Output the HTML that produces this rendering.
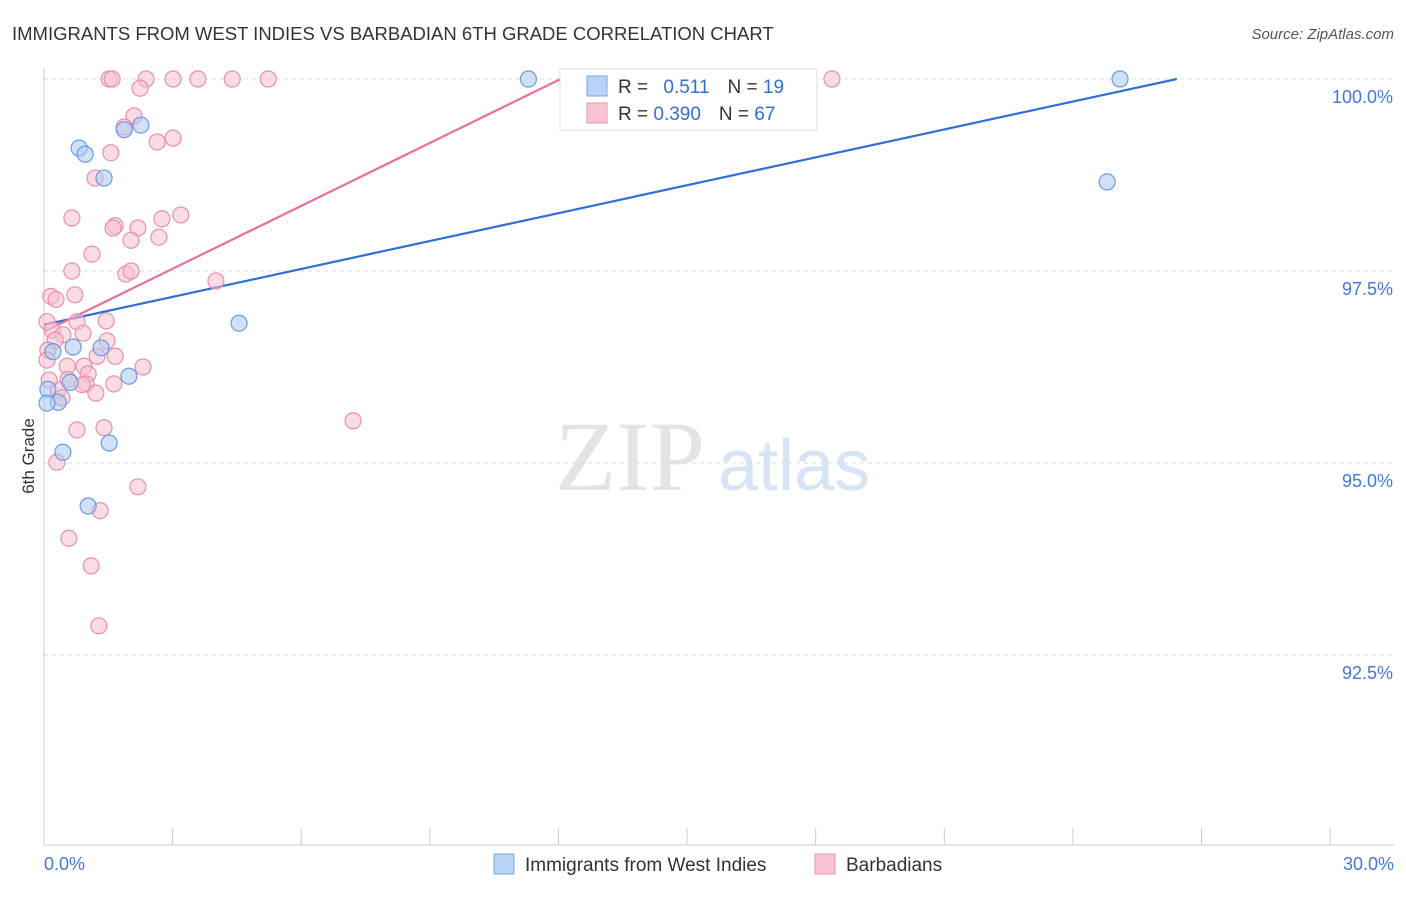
<!DOCTYPE html>
<html><head><meta charset="utf-8"><style>
body{margin:0;background:#fff;font-family:"Liberation Sans",sans-serif}
</style></head><body>
<svg id="chart" width="1406" height="892" viewBox="0 0 1406 892" xmlns="http://www.w3.org/2000/svg" font-family="Liberation Sans, sans-serif">
<text x="12" y="40" font-size="18.5" fill="#333">IMMIGRANTS FROM WEST INDIES VS BARBADIAN 6TH GRADE CORRELATION CHART</text>
<text x="1394" y="39" font-size="15" fill="#555" text-anchor="end" font-style="italic">Source: ZipAtlas.com</text>
<g><text x="555" y="490" font-size="100" fill="#e4e4e4" font-family="Liberation Serif, serif">ZIP</text><text x="718" y="490" font-size="72" fill="#d6e4f5">atlas</text></g>
<text transform="translate(34,456) rotate(-90)" font-size="17" fill="#333" text-anchor="middle">6th Grade</text>
<g id="grid"></g><g id="axes"></g><g id="lines"></g><g id="pts"></g>
<g>
<rect x="560" y="69" width="257" height="61" fill="#fff" stroke="#ddd"/>
<rect x="587" y="76" width="20" height="20" fill="#b8d3f5" stroke="#7aa6e0"/>
<rect x="587" y="103" width="20" height="20" fill="#f8c4d3" stroke="#eb95b0"/>
<text x="618" y="93" font-size="19" fill="#333">R = <tspan fill="#2f6fd6" dx="10">0.511</tspan><tspan fill="#333" dx="18">N = </tspan><tspan fill="#2f6fd6">19</tspan></text>
<text x="618" y="120" font-size="19" fill="#333">R = <tspan fill="#2f6fd6">0.390</tspan><tspan fill="#333" dx="18">N = </tspan><tspan fill="#2f6fd6">67</tspan></text>
</g>
<g>
<rect x="494" y="854" width="20" height="20" fill="#b8d3f5" stroke="#7aa6e0"/>
<text x="525" y="871" font-size="19" fill="#333">Immigrants from West Indies</text>
<rect x="815" y="854" width="20" height="20" fill="#f8c4d3" stroke="#eb95b0"/>
<text x="846" y="871" font-size="19" fill="#333">Barbadians</text>
</g>
</svg>
<script>
const xTicks=[0,3,6,9,12,15,18,21,24,27,30];
const yTicks=[92.5,95,97.5,100];
const blueX=[11.3,25.1,24.8,0.82,0.96,1.4,1.87,2.26,4.55,0.68,1.33,0.21,1.98,0.61,0.09,0.33,0.07,0.44,1.52,1.03];
const blueY=[100,100,98.66,99.1,99.02,98.71,99.34,99.4,96.82,96.51,96.5,96.45,96.13,96.05,95.96,95.79,95.78,95.14,95.26,94.44];
const pinkX=[1.52,1.59,2.38,3.01,3.59,4.39,5.23,18.38,2.24,2.1,1.87,2.64,3.01,1.56,1.19,0.65,1.66,1.61,2.19,2.75,3.19,2.03,2.68,1.12,0.65,1.91,2.03,4.01,0.16,0.28,0.72,0.07,1.45,0.19,0.44,0.77,0.91,0.26,0.09,1.47,1.24,1.66,0.54,0.93,2.31,1.03,0.56,0.98,0.89,1.63,1.21,0.33,0.42,0.12,7.21,0.77,1.4,0.30,2.19,1.31,0.58,1.1,1.28,0.07];
const pinkY=[100,100,100,100,100,100,100,100,99.88,99.52,99.375,99.18,99.23,99.04,98.71,98.19,98.09,98.06,98.06,98.18,98.23,97.9,97.94,97.72,97.5,97.46,97.5,97.37,97.17,97.13,97.19,96.84,96.85,96.73,96.67,96.84,96.69,96.6,96.47,96.59,96.39,96.39,96.26,96.26,96.25,96.16,96.09,96.03,96.02,96.03,95.91,95.95,95.85,96.08,95.55,95.43,95.46,95.01,94.69,94.38,94.02,93.66,92.88,96.34];
const blueLine=[96.8,0.1211], pinkLine=[96.71,0.273];
const X=v=>44+v*42.87, Y=v=>79+(100-v)*76.8;
const NS="http://www.w3.org/2000/svg";
function mk(t,a,p){const e=document.createElementNS(NS,t);for(const k in a)e.setAttribute(k,a[k]);document.getElementById(p).appendChild(e);return e;}
yTicks.forEach(t=>{
 const g=mk('line',{x1:44,x2:1394,y1:Y(t),y2:Y(t),stroke:'#ddd','stroke-dasharray':'4,4'},'grid');
 
 
 const l=mk('text',{x:1393,y:Y(t)+24,'font-size':18,fill:'#3f7ad8','text-anchor':'end'},'axes');l.textContent=t.toFixed(1)+'%';
 
 
});
mk('line',{x1:44,x2:44,y1:68,y2:845,stroke:'#ccc'},'axes');
mk('line',{x1:44,x2:1394,y1:845,y2:845,stroke:'#ccc'},'axes');
xTicks.forEach(t=>{const e=mk('line',{x1:X(t),x2:X(t),y1:828,y2:845,stroke:'#ccc'},'axes');
 
 });
[[0,'start'],[30,'end']].forEach(([t,a])=>{const l=mk('text',{x:t?1394:44,y:870,'font-size':18,fill:'#3f7ad8','text-anchor':a},'axes');l.textContent=t.toFixed(1)+'%';
 
 });
function trend(c,col,name){const xe=(100-c[0])/c[1];const l=mk('line',{x1:X(0),y1:Y(c[0]),x2:X(xe),y2:Y(100),stroke:col,'stroke-width':2.2},'lines');
 
 }
trend(blueLine,'#2f6fd6','blue-trend-line');trend(pinkLine,'#e8709a','pink-trend-line');
function pts(xs,ys,f,s,name){xs.forEach((x,i)=>{const c=mk('circle',{cx:X(x),cy:Y(ys[i]),r:8,fill:f,'fill-opacity':0.55,stroke:s,'stroke-width':1.2},'pts');
 
 });}
pts(pinkX,pinkY,'#f8bfd0','#e98fac','pink-point');
pts(blueX,blueY,'#a9c8f0','#6b9be0','blue-point');
</script>
</body></html>
